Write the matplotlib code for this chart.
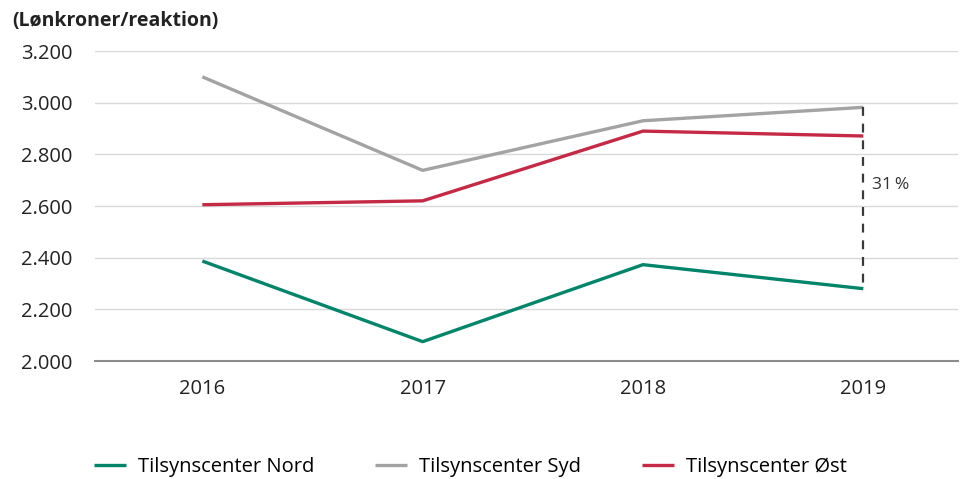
import numpy as np
from matplotlib import pyplot as plt

plt.rcParams['font.family'] = ['Open Sans', 'DejaVu Sans']

years = ['2016', '2017', '2018', '2019']
nord = [2387, 2075, 2373, 2280]
syd = [3100, 2738, 2930, 2982]
oest = [2605, 2620, 2890, 2871]
yticks = [2000, 2200, 2400, 2600, 2800, 3000, 3200]

c_nord = '#00856a'
c_syd = '#a3a3a3'
c_oest = '#c42a45'

fig = plt.figure(figsize=(9.6, 4.79), dpi=100)
ax = fig.add_axes([0.099, 0.2463, 0.899, 0.6472])

x = np.arange(len(years))
ax.plot(x, nord, color=c_nord, lw=2.4, label='Tilsynscenter Nord', solid_capstyle='butt')
ax.plot(x, syd, color=c_syd, lw=2.4, label='Tilsynscenter Syd', solid_capstyle='butt')
ax.plot(x, oest, color=c_oest, lw=2.4, label='Tilsynscenter Øst', solid_capstyle='butt')

# difference marker for 2019
ax.plot([x[-1], x[-1]], [syd[-1], nord[-1]], color='#3a3a3a', lw=1.6,
        dashes=(4, 3.5))
pct = round((syd[-1] / nord[-1] - 1) * 100)
ax.text(x[-1] + 0.04, 2680, f'{pct}\u2009%',
        fontsize=12.5, color='#333333', va='center', ha='left')

ax.set_xlim(-0.487, 3.43)
ax.set_ylim(2000, 3200)
ax.set_yticks(yticks)
ax.set_yticklabels([f'{v:,}'.replace(',', '.') for v in yticks])
ax.set_xticks(x)
ax.set_xticklabels(years)

ax.yaxis.grid(True, color='#d9d9d9', lw=1)
ax.set_axisbelow(True)
for s in ['top', 'right', 'left']:
    ax.spines[s].set_visible(False)
ax.spines['bottom'].set_color('#8c8c8c')
ax.spines['bottom'].set_linewidth(1.5)
ax.tick_params(axis='both', length=0, labelsize=14.5, colors='#222222')
ax.tick_params(axis='y', pad=16)
ax.tick_params(axis='x', pad=13)

fig.text(0.0125, 0.957, '(Lønkroner/reaktion)', fontsize=14, fontweight='bold',
         color='#222222', va='center')

fig.legend(loc='center', bbox_to_anchor=(0.49, 0.025), ncol=3, frameon=False,
           fontsize=14.5, handlelength=1.6, handletextpad=0.6, columnspacing=3.0)

plt.savefig('out.png', dpi=100)
